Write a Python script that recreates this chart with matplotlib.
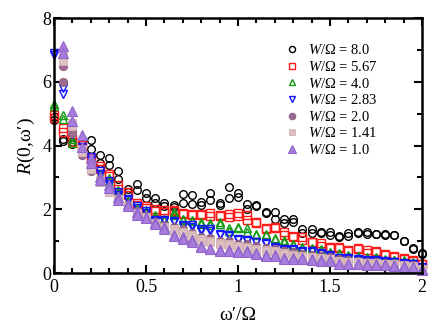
import numpy as np
import matplotlib
matplotlib.use("Agg")
import matplotlib.pyplot as plt
from matplotlib.ticker import MultipleLocator

plt.rcParams['font.family'] = ['Liberation Serif', 'DejaVu Serif']
plt.rcParams['mathtext.fontset'] = 'custom'
plt.rcParams['mathtext.rm'] = 'Liberation Serif'
plt.rcParams['mathtext.it'] = 'Liberation Serif:italic'

x = [0.0, 0.05, 0.1, 0.15, 0.2, 0.25, 0.3, 0.35, 0.4, 0.45, 0.5, 0.55, 0.6, 0.65, 0.7,
     0.75, 0.8, 0.85, 0.9, 0.95, 1.0, 1.05, 1.1, 1.15, 1.2, 1.25, 1.3, 1.35, 1.4, 1.45,
     1.5, 1.55, 1.6, 1.65, 1.7, 1.75, 1.8, 1.85, 1.9, 1.95, 2.0]

labels = ['8.0', '5.67', '4.0', '2.83', '2.0', '1.41', '1.0']

w80_a = [4.9, 4.2, 4.1, 4.05, 4.17, 3.7, 3.6, 3.2, 2.65, 2.8, 2.5, 2.34, 2.19, 2.13, 2.48,
         2.45, 2.23, 2.5, 2.2, 2.69, 2.5, 2.18, 2.15, 1.93, 1.92, 1.71, 1.71, 1.37, 1.37, 1.3,
         1.3, 1.16, 1.26, 1.3, 1.3, 1.24, 1.24, 1.21, 1.02, 0.78, 0.64]
w80_b = [4.8, 4.15, 4.05, 3.95, 3.88, 3.45, 3.4, 2.95, 2.55, 2.6, 2.34, 2.2, 2.1, 2.08, 2.2,
         2.18, 2.13, 2.29, 2.15, 2.34, 2.4, 2.0, 2.12, 1.89, 1.71, 1.56, 1.61, 1.26, 1.26, 1.26,
         1.19, 1.13, 1.16, 1.27, 1.24, 1.22, 1.19, 1.18, 1.0, 0.76, 0.6]

w567_a = [4.95, 4.55, 4.2, 4.01, 3.6, 3.35, 3.12, 2.75, 2.55, 2.2, 2.1, 2.02, 1.97, 1.99, 1.9,
          1.86, 1.85, 1.88, 1.83, 1.85, 1.9, 1.82, 1.61, 1.42, 1.45, 1.3, 1.15, 1.14, 0.99, 0.95,
          0.83, 0.82, 0.73, 0.78, 0.72, 0.68, 0.6, 0.52, 0.47, 0.4, 0.3]
w567_b = [4.85, 4.43, 4.1, 3.95, 3.5, 3.25, 3.05, 2.65, 2.45, 2.15, 2.05, 1.96, 1.93, 1.95, 1.85,
          1.82, 1.82, 1.8, 1.8, 1.76, 1.8, 1.68, 1.58, 1.38, 1.41, 1.19, 1.12, 1.03, 0.96, 0.85,
          0.8, 0.8, 0.7, 0.75, 0.64, 0.65, 0.58, 0.5, 0.45, 0.37, 0.28]

w40_a = [5.3, 4.95, 4.22, 3.95, 3.5, 3.1, 2.97, 2.6, 2.3, 2.05, 1.97, 1.82, 1.7, 1.92, 1.71,
         1.68, 1.61, 1.58, 1.61, 1.4, 1.45, 1.4, 1.24, 1.24, 1.1, 1.04, 0.92, 0.82, 0.8, 0.74,
         0.66, 0.62, 0.57, 0.52, 0.5, 0.5, 0.43, 0.42, 0.4, 0.35, 0.22]
w40_b = [5.25, 4.82, 4.07, 3.88, 3.4, 3.0, 2.85, 2.5, 2.25, 2.0, 1.93, 1.75, 1.66, 1.82, 1.65,
         1.62, 1.55, 1.52, 1.55, 1.33, 1.42, 1.3, 1.2, 1.2, 1.07, 0.98, 0.89, 0.79, 0.76, 0.71,
         0.63, 0.6, 0.55, 0.5, 0.48, 0.47, 0.41, 0.4, 0.38, 0.33, 0.2]

w283_a = [6.9, 5.81, 4.43, 3.95, 3.65, 3.2, 2.9, 2.55, 2.32, 2.1, 1.95, 1.68, 1.66, 1.64, 1.52,
          1.5, 1.37, 1.37, 1.22, 1.2, 1.06, 1.04, 0.99, 0.94, 0.83, 0.75, 0.74, 0.68, 0.68, 0.63,
          0.58, 0.47, 0.46, 0.44, 0.41, 0.41, 0.38, 0.36, 0.31, 0.29, 0.19]
w283_b = [6.85, 5.63, 4.35, 3.9, 3.55, 3.1, 2.8, 2.45, 2.28, 2.05, 1.9, 1.64, 1.62, 1.6, 1.48,
          1.46, 1.33, 1.33, 1.19, 1.17, 1.03, 1.01, 0.96, 0.91, 0.8, 0.72, 0.71, 0.65, 0.65, 0.6,
          0.55, 0.45, 0.44, 0.42, 0.39, 0.39, 0.36, 0.34, 0.29, 0.27, 0.17]

w20_a = [np.nan, 6.5, 4.5, 3.85, 3.3, 2.9, 2.6, 2.35, 2.15, 1.95, 1.8, 1.6, 1.5, 1.45, 1.38,
         1.25, 1.12, 1.1, 1.02, 1.0, 0.92, 0.9, 0.85, 0.8, 0.75, 0.7, 0.66, 0.6, 0.58, 0.53,
         0.5, 0.43, 0.4, 0.38, 0.36, 0.35, 0.32, 0.3, 0.26, 0.24, 0.15]
w20_b = [np.nan, 6.0, 4.4, 3.7, 3.2, 2.85, 2.55, 2.3, 2.1, 1.9, 1.75, 1.55, 1.45, 1.4, 1.3,
         1.2, 1.1, 1.05, 0.98, 0.95, 0.88, 0.85, 0.8, 0.75, 0.72, 0.66, 0.62, 0.57, 0.55, 0.5,
         0.47, 0.4, 0.38, 0.36, 0.34, 0.33, 0.3, 0.28, 0.24, 0.22, 0.13]

w141_a = [np.nan, 6.8, 4.7, 3.9, 3.35, 2.92, 2.62, 2.33, 2.12, 1.9, 1.75, 1.57, 1.45, 1.38, 1.3,
          1.18, 1.06, 1.0, 0.93, 0.9, 0.84, 0.82, 0.77, 0.71, 0.68, 0.62, 0.58, 0.54, 0.51, 0.47,
          0.45, 0.38, 0.36, 0.34, 0.32, 0.31, 0.29, 0.27, 0.24, 0.22, 0.13]
w141_b = [np.nan, 6.65, 4.6, 3.8, 3.25, 2.85, 2.55, 2.28, 2.08, 1.86, 1.72, 1.52, 1.4, 1.33, 1.25,
          1.14, 1.02, 0.96, 0.9, 0.87, 0.8, 0.78, 0.73, 0.68, 0.64, 0.59, 0.55, 0.51, 0.49, 0.45,
          0.43, 0.36, 0.34, 0.32, 0.3, 0.29, 0.27, 0.25, 0.22, 0.2, 0.12]

w10_a = [np.nan, 7.12, 5.1, 4.33, 3.6, 3.02, 2.76, 2.39, 2.16, 1.92, 1.77, 1.61, 1.43, 1.19, 1.12,
         1.03, 0.85, 0.77, 0.72, 0.72, 0.7, 0.7, 0.64, 0.56, 0.56, 0.47, 0.47, 0.47, 0.44, 0.41,
         0.41, 0.3, 0.3, 0.3, 0.28, 0.28, 0.27, 0.25, 0.22, 0.2, 0.12]
w10_b = [np.nan, 6.9, 4.78, 3.95, 3.44, 2.92, 2.66, 2.3, 2.1, 1.82, 1.72, 1.55, 1.38, 1.15, 1.08,
         0.99, 0.82, 0.74, 0.69, 0.69, 0.67, 0.67, 0.61, 0.53, 0.53, 0.45, 0.45, 0.44, 0.42, 0.39,
         0.39, 0.28, 0.28, 0.28, 0.26, 0.26, 0.25, 0.23, 0.2, 0.18, 0.1]

series = [
    (w80_a, w80_b, dict(marker='o', ms=5.5, mfc='none', mec='black', mew=1.0)),
    (w567_a, w567_b, dict(marker='s', ms=5.2, mfc='none', mec='#ff1a1a', mew=1.0)),
    (w40_a, w40_b, dict(marker='^', ms=6.0, mfc='none', mec='#129a12', mew=1.0)),
    (w283_a, w283_b, dict(marker='v', ms=6.0, mfc='none', mec='#1414ff', mew=1.0)),
    (w20_a, w20_b, dict(marker='o', ms=6.0, mfc='#9c6d90', mec='#8a5c80', mew=0.6)),
    (w141_a, w141_b, dict(marker='s', ms=5.6, mfc='#dcbfc1', mec='#d3b3b5', mew=0.6)),
    (w10_a, w10_b, dict(marker='^', ms=6.6, mfc='#a87cdc', mec='#9265cc', mew=0.8)),
]

fig = plt.figure(figsize=(4.36, 3.29), dpi=100)
ax = fig.add_axes([0.124, 0.170, 0.844, 0.775])

for (ya, yb, st), lab in zip(series, labels):
    ax.plot(x, ya, ls='none', clip_on=False, label=r'$W$/Ω = ' + lab, **st)
    ax.plot(x, yb, ls='none', clip_on=False, **st)

ax.set_xlim(0, 2)
ax.set_ylim(0, 8)
ax.xaxis.set_major_locator(MultipleLocator(0.5))
ax.xaxis.set_minor_locator(MultipleLocator(0.1))
ax.yaxis.set_major_locator(MultipleLocator(2))
ax.yaxis.set_minor_locator(MultipleLocator(1))
ax.set_xticks([0, 0.5, 1, 1.5, 2])
ax.set_xticklabels(['0', '0.5', '1', '1.5', '2'])
ax.tick_params(which='both', direction='in', top=True, right=True, labelsize=13, width=1.5)
ax.tick_params(which='major', length=6)
ax.tick_params(which='minor', length=3.5)
ax.tick_params(axis='x', pad=4)
ax.tick_params(axis='y', pad=2)
for sp in ax.spines.values():
    sp.set_linewidth(1.8)

ax.set_xlabel('ω′/Ω', fontsize=14, labelpad=8)
ax.set_ylabel(r'$R$(0,ω′)', fontsize=14, labelpad=4)

leg = ax.legend(loc='upper left', bbox_to_anchor=(0.611, 0.924), frameon=False, fontsize=10.5,
                handlelength=1.0, handletextpad=0.6, labelspacing=0.18, borderaxespad=0.0,
                numpoints=1, markerscale=0.8)

fig.savefig('out.png', dpi=100)
